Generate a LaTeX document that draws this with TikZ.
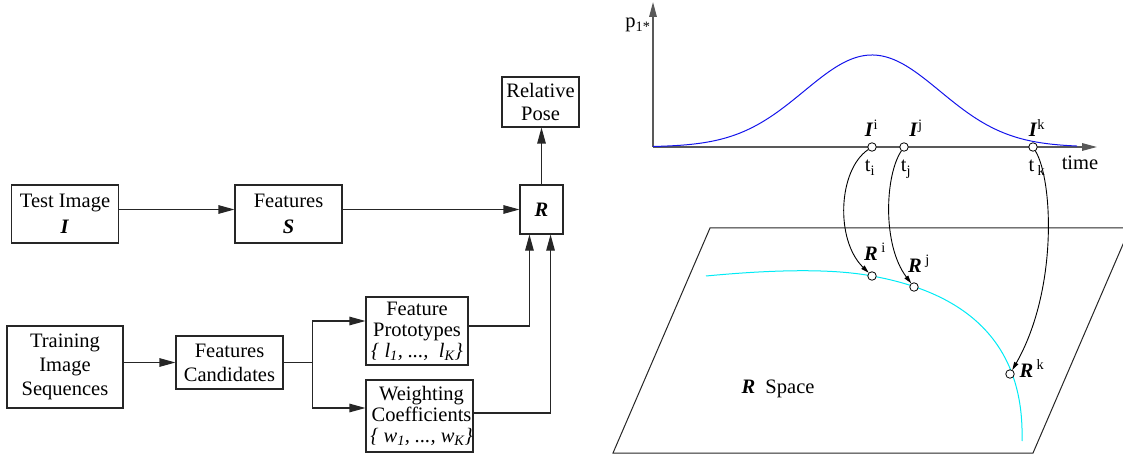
\documentclass[tikz,border=0pt]{standalone}
\usepackage{fontspec}
\setmainfont{Liberation Serif}
\usetikzlibrary{arrows.meta,calc}
\newcommand{\bi}[1]{\textbf{\textit{#1}}}
\definecolor{curvecyan}{RGB}{0,235,245}
\definecolor{curveblue}{RGB}{20,20,235}
\begin{document}
\begin{tikzpicture}[x=1pt,y=-1pt,
  box/.style={draw=black!85,line width=1.1pt,inner sep=0pt,align=center,font=\fontsize{20.5}{24}\selectfont},
  tight/.style={font=\fontsize{20.5}{21}\selectfont},
  arr/.style={line width=1.1pt,draw=black!85,-{Triangle[length=16pt,width=8.5pt]}},
  ln/.style={line width=1.1pt,draw=black!85},
  axisln/.style={line width=1.6pt,draw=black!65,-{Triangle[length=15pt,width=7.5pt]}},
  sarr/.style={line width=0.9pt,-{Triangle[length=8pt,width=4.5pt]}},
  lbl/.style={inner sep=0pt,font=\fontsize{20.5}{24}\selectfont},
  ring/.style={circle,draw,line width=0.8pt,fill=white,minimum size=8.5pt,inner sep=0pt},
  plane/.style={line width=1pt,draw=black!85}
]
\useasboundingbox (0,0) rectangle (1123,462);

% ---------- left block diagram ----------
\node[box,minimum width=107pt,minimum height=58pt] (test) at (65,214) {Test Image\\[2pt]\bi{I}};
\node[box,minimum width=107pt,minimum height=58pt] (feat) at (288.5,214) {Features\\[2pt]\bi{S}};
\node[box,minimum width=43pt,minimum height=49pt] (R) at (541.5,209.5) {\bi{R}};
\node[box,minimum width=77pt,minimum height=50pt,font=\fontsize{20.5}{23}\selectfont] (pose) at (540.5,102) {Relative\\Pose};
\node[box,minimum width=116pt,minimum height=82pt] (train) at (65,367) {Training\\Image\\Sequences};
\node[box,minimum width=107pt,minimum height=53pt] (cand) at (229.5,362.5) {Features\\Candidates};
\node[box,tight,minimum width=102pt,minimum height=68pt] (proto) at (417,331) {Feature\\Prototypes\\\textit{\{ l\textsubscript{1}, ...,\ \ l\textsubscript{K}\}}};
\node[box,tight,minimum width=107pt,minimum height=72pt] (wt) at (419.5,416) {};
\node[tight,inner sep=0pt,align=center] (wttext) at (421.5,416) {Weighting\\Coefficients\\\textit{\{ w\textsubscript{1}, ..., w\textsubscript{K}\}}};

\draw[arr] (test.east |- R.west) -- (feat.west |- R.west);
\draw[arr] (feat.east |- R.west) -- (R.west);
\draw[arr] (R.north) -- (R.north |- pose.south);
\draw[arr] (train.east |- cand.west) -- (cand.west);
\coordinate (br) at ($(cand.east)+(29,0)$);
\draw[ln] (cand.east) -- (br);
\draw[arr] (br) |- ($(proto.west)+(0,-10)$);
\draw[arr] (br) |- ($(wt.west)+(0,-8)$);
\coordinate (pin) at ($(R.south west)+(10,0)$);
\coordinate (win) at ($(R.south east)+(-13,0)$);
\draw[arr] ($(proto.east)+(0,-5)$) -| (pin);
\draw[arr] ($(wt.east)+(0,-3)$) -| (win);

% ---------- right: time plot ----------
\coordinate (O) at (653,147);
\coordinate (ytop) at (653,2);
\coordinate (xend) at (1097,147);
\draw[axisln] (O) -- (ytop);
\draw[axisln] (O) -- (xend);
\draw[curveblue,line width=1pt] plot[domain=653:1077,samples=140] (\x,{147-92*exp(0-0.5*pow((\x-872)/68,2))});

% ---------- R space ----------
\begin{scope}
\clip (0,0) rectangle (1123,462);
\draw[plane] (710,228) -- (1130,228) -- (1033,453) -- (613,453) -- cycle;
\end{scope}
\draw[curvecyan,line width=1pt] (706,276) .. controls (790,268) and (840,270) .. (872,276)
   .. controls (950,290) and (1025,330) .. (1022,441);

\node[ring] (ci) at (872,147) {};
\node[ring] (cj) at (904,147) {};
\node[ring] (ck) at (1033,147) {};
\node[ring] (ri) at (872,276) {};
\node[ring] (rj) at (914,287) {};
\node[ring] (rk) at (1010,374) {};

\draw[sarr] (ci) .. controls (838,170) and (835,240) .. (ri);
\draw[sarr] (cj) .. controls (885,175) and (882,245) .. (rj);
\draw[sarr] (ck) .. controls (1053,180) and (1058,290) .. (rk);

% labels
\node[lbl,anchor=base] (pl) at (638,28) {p\textsubscript{1*}};
\node[lbl,anchor=base] (Ii) at (871.5,137) {\bi{I}\textsuperscript{i}};
\node[lbl,anchor=base] (Ij) at (916,137) {\bi{I}\textsuperscript{j}};
\node[lbl,anchor=base] (Ik) at (1037,137) {\bi{I}\textsuperscript{k}};
\node[lbl,anchor=base] (ti) at (870,172) {t\textsubscript{i}};
\node[lbl,anchor=base] (tj) at (906,172) {t\textsubscript{j}};
\node[lbl,anchor=base] (tk) at (1037,172) {t\,\textsubscript{k}};
\node[lbl,anchor=base] (time) at (1080,170) {time};
\node[lbl,anchor=base] (Ri) at (875,260) {\bi{R}\,\textsuperscript{i}};
\node[lbl,anchor=base] (Rj) at (919,272) {\bi{R}\,\textsuperscript{j}};
\node[lbl,anchor=base] (Rk) at (1032,377) {\bi{R}\,\textsuperscript{k}};
\node[lbl,anchor=base] (rs) at (778,393) {\bi{R}\ \ Space};
\end{tikzpicture}
\end{document}
